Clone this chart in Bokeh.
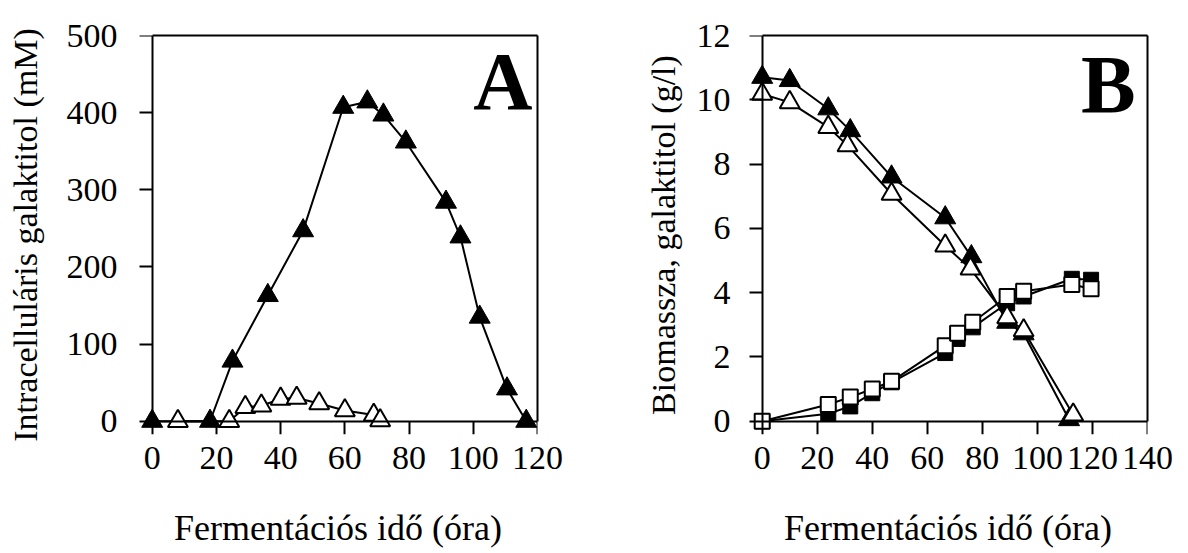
from bokeh.plotting import figure
from bokeh.models import Range1d, LinearAxis, Label, FixedTicker
from bokeh.layouts import row
from bokeh.embed import file_html
from bokeh.resources import INLINE

# ---------------- data ----------------
# Panel A: intracellular galactitol (mM)
a_filled_x = [0, 18, 25, 36, 47, 59.5, 67, 72, 79, 91.5, 96, 102, 110.5, 116.5]
a_filled_y = [0, 0, 78, 163, 247, 407, 414, 397, 362, 284, 239, 135, 42, 0]
a_open_x = [8, 24, 29, 34, 40, 45, 52, 60, 69, 71]
a_open_y = [0, 0, 18, 20, 29, 30, 23, 14, 8, 1]

# Panel B: biomass and galactitol (g/l)
b_tri_filled_x = [0, 10, 24, 32, 47, 66.5, 76, 89, 95, 111.5]
b_tri_filled_y = [10.7, 10.6, 9.72, 9.04, 7.6, 6.33, 5.12, 3.08, 2.72, 0.05]
b_tri_open_x = [0, 10, 24, 31, 47, 66.5, 75.7, 89, 95, 113]
b_tri_open_y = [10.18, 9.92, 9.15, 8.58, 7.07, 5.46, 4.74, 3.23, 2.82, 0.2]
b_sq_x = [0, 24, 32, 40, 47, 66.5, 71, 76.5, 89, 95, 112.5, 119.5]
b_sq_filled_y = [0, 0.23, 0.46, 0.87, 1.21, 2.12, 2.56, 2.92, 3.67, 3.88, 4.43, 4.40]
b_sq_open_y = [0, 0.52, 0.75, 1.0, 1.24, 2.35, 2.74, 3.08, 3.88, 4.04, 4.25, 4.12]

a_xticks = [0, 20, 40, 60, 80, 100, 120]
a_yticks = [0, 100, 200, 300, 400, 500]
b_xticks = [0, 20, 40, 60, 80, 100, 120, 140]
b_yticks = [0, 2, 4, 6, 8, 10, 12]

x_title = "Fermentációs idő (óra)"
a_y_title = "Intracelluláris galaktitol (mM)"
b_y_title = "Biomassza, galaktitol (g/l)"

FONT = "Liberation Serif"
TICK_FS = "34px"
XTITLE_FS = "36px"
YTITLE_FS = "34px"


def line_axis(ticks, bounds, fixed):
    # draws only the axis line + outward ticks (labels not painted)
    ax = LinearAxis(ticker=FixedTicker(ticks=ticks), bounds=bounds)
    if fixed:
        ax.fixed_location = 0
    ax.axis_line_width = 2
    ax.axis_line_color = "black"
    ax.major_tick_line_width = 2
    ax.major_tick_line_color = "black"
    ax.major_tick_in = -13
    ax.major_tick_out = 0
    ax.minor_tick_line_color = None
    ax.major_label_text_font_size = "0px"
    ax.major_label_text_color = None
    ax.major_label_standoff = 0
    return ax


def label_axis(ticks, standoff, title, title_fs, title_standoff):
    # only tick labels + axis title, placed at the frame edge
    ax = LinearAxis(ticker=FixedTicker(ticks=ticks))
    ax.axis_line_color = None
    ax.major_tick_line_color = None
    ax.minor_tick_line_color = None
    ax.major_tick_in = 0
    ax.major_tick_out = 0
    ax.major_label_standoff = standoff
    ax.major_label_text_font = FONT
    ax.major_label_text_font_size = TICK_FS
    ax.major_label_text_color = "black"
    ax.axis_label = title
    ax.axis_label_text_font = FONT
    ax.axis_label_text_font_size = title_fs
    ax.axis_label_text_font_style = "normal"
    ax.axis_label_text_color = "black"
    ax.axis_label_standoff = title_standoff
    return ax


def make_fig(width, xr, yr, mbl, mbr, xticks, yticks, ytitle, ystandoff, ytitle_standoff):
    p = figure(width=width, height=553,
               x_range=Range1d(*xr), y_range=Range1d(*yr),
               x_axis_location=None, y_axis_location=None,
               output_backend="svg", toolbar_location=None,
               min_border_left=mbl, min_border_right=mbr,
               min_border_top=35, min_border_bottom=119)
    p.outline_line_color = None
    p.grid.visible = False
    p.background_fill_color = "white"
    p.border_fill_color = "white"

    p.add_layout(label_axis(xticks, 12, x_title, XTITLE_FS, 36), "below")
    p.add_layout(label_axis(yticks, ystandoff, ytitle, YTITLE_FS, ytitle_standoff), "left")
    p.add_layout(line_axis(xticks, (0, xticks[-1]), True), "below")
    p.add_layout(line_axis(yticks, (0, yticks[-1]), True), "left")
    p.add_layout(line_axis([], (0, xticks[-1]), False), "above")
    p.add_layout(line_axis([], (0, yticks[-1]), False), "right")
    return p


def big_letter(p, text, x, y):
    p.add_layout(Label(x=x, y=y, text=text, text_font=FONT,
                       text_font_size="82px", text_font_style="bold",
                       text_align="right", text_baseline="alphabetic",
                       text_color="black"))


def series(p, xs, ys):
    p.line(xs, ys, line_color="black", line_width=2)


def marks(p, xs, ys, marker, filled, size):
    if filled:
        p.scatter(xs, ys, marker=marker, size=size, fill_color="black",
                  line_color="black", line_width=1)
    else:
        p.scatter(xs, ys, marker=marker, size=size, fill_color="white",
                  line_color="black", line_width=2)


# ---------------- panel A ----------------
pA = make_fig(640, (-4.27, 120), (-17.2, 500), 138, 103,
              a_xticks, a_yticks, a_y_title, 21, 20)
series(pA, a_filled_x, a_filled_y)
series(pA, a_open_x, a_open_y)
marks(pA, a_filled_x, a_filled_y, "triangle", True, 21)
marks(pA, a_open_x, a_open_y, "triangle", False, 20)
big_letter(pA, "A", 118.4, 440)

# ---------------- panel B ----------------
pB = make_fig(537, (-4.98, 140), (-0.414, 12), 108, 30,
              b_xticks, b_yticks, b_y_title, 18, 12)
series(pB, b_sq_x, b_sq_filled_y)
series(pB, b_tri_filled_x, b_tri_filled_y)
series(pB, b_sq_x, b_sq_open_y)
series(pB, b_tri_open_x, b_tri_open_y)
marks(pB, b_sq_x, b_sq_filled_y, "square", True, 15)
marks(pB, b_tri_filled_x, b_tri_filled_y, "triangle", True, 21)
marks(pB, b_sq_x, b_sq_open_y, "square", False, 15)
marks(pB, b_tri_open_x, b_tri_open_y, "triangle", False, 20)
big_letter(pB, "B", 135.7, 10.47)

layout = row(pA, pB)
open("out.html", "w").write(file_html(layout, INLINE))
